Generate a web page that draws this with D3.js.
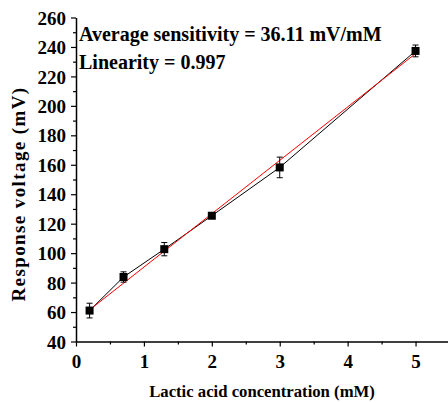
<!DOCTYPE html>
<html>
<head>
<meta charset="utf-8">
<script src="https://cdn.jsdelivr.net/npm/d3@7"></script>
<style>
  body { margin: 0; background: #fff; }
  svg text { font-family: "Liberation Serif", "Times New Roman", serif; font-weight: bold; }
</style>
</head>
<body>
<div id="chart"></div>
<script>
const width = 448;
const height = 403;

const concentration = [0.2, 0.7, 1.3, 2, 3, 5];
const voltage = [61, 83.8, 102.7, 125.4, 158.2, 237.3];
const errorBar = [5, 3.5, 4.5, 1, 7, 4];

// linear fit end points
const fitX = [0.2, 5];
const fitY = [61.5, 235.5];

const xTicks = [0, 1, 2, 3, 4, 5];
const xMinor = [0.5, 1.5, 2.5, 3.5, 4.5, 5.5];
const yTicks = [40, 60, 80, 100, 120, 140, 160, 180, 200, 220, 240, 260];
const yMinor = [50, 70, 90, 110, 130, 150, 170, 190, 210, 230, 250];

const xScale = d3.scaleLinear().domain([0, 5.5]).range([76, 449.5]);
const yScale = d3.scaleLinear().domain([40, 260]).range([341.5, 17.5]);

const svg = d3.select('#chart')
    .append('svg')
    .attr('width', width)
    .attr('height', height);

// minor ticks first, then main axes on top
svg.append('g')
    .attr('transform', `translate(0, ${yScale(40)})`)
    .call(d3.axisBottom(xScale).tickValues(xMinor).tickSize(3).tickFormat(''))
    .call(g => g.select('.domain').remove());

svg.append('g')
    .attr('transform', `translate(${xScale(0)}, 0)`)
    .call(d3.axisLeft(yScale).tickValues(yMinor).tickSize(3).tickFormat(''))
    .call(g => g.select('.domain').remove());

const xAxis = svg.append('g')
    .attr('transform', `translate(0, ${yScale(40)})`)
    .call(d3.axisBottom(xScale).tickValues(xTicks).tickSize(5).tickSizeOuter(0).tickPadding(8).tickFormat(d3.format('d')));

const yAxis = svg.append('g')
    .attr('transform', `translate(${xScale(0)}, 0)`)
    .call(d3.axisLeft(yScale).tickValues(yTicks).tickSize(5).tickSizeOuter(0).tickPadding(5));

[xAxis, yAxis].forEach(a => {
    a.select('.domain').attr('stroke-width', 1.5);
    a.selectAll('.tick text')
        .style('font-size', '19px')
        .style('font-family', '"Liberation Serif", serif')
        .style('font-weight', 'bold')
        .attr('fill', '#000');
});
yAxis.selectAll('.tick text').attr('dy', '0.35em');

svg.selectAll('.tick line').attr('stroke', '#000').attr('stroke-width', 1.2);

const points = concentration.map((c, i) => ({x: c, y: voltage[i], e: errorBar[i]}));

// data line
svg.append('path')
    .datum(points)
    .attr('fill', 'none')
    .attr('stroke', '#000')
    .attr('stroke-width', 1)
    .attr('d', d3.line().x(d => xScale(d.x)).y(d => yScale(d.y)));

// fit line
svg.append('path')
    .datum(fitX.map((x, i) => ({x: x, y: fitY[i]})))
    .attr('fill', 'none')
    .attr('stroke', '#ff0000')
    .attr('stroke-width', 1)
    .attr('d', d3.line().x(d => xScale(d.x)).y(d => yScale(d.y)));

// error bars
const err = svg.append('g').attr('stroke', '#000').attr('stroke-width', 1);
err.selectAll('.bar')
    .data(points)
    .enter()
    .append('line')
    .attr('x1', d => xScale(d.x))
    .attr('x2', d => xScale(d.x))
    .attr('y1', d => yScale(d.y - d.e))
    .attr('y2', d => yScale(d.y + d.e));
err.selectAll('.cap-top')
    .data(points)
    .enter()
    .append('line')
    .attr('x1', d => xScale(d.x) - 3)
    .attr('x2', d => xScale(d.x) + 3)
    .attr('y1', d => yScale(d.y + d.e))
    .attr('y2', d => yScale(d.y + d.e));
err.selectAll('.cap-bottom')
    .data(points)
    .enter()
    .append('line')
    .attr('x1', d => xScale(d.x) - 3)
    .attr('x2', d => xScale(d.x) + 3)
    .attr('y1', d => yScale(d.y - d.e))
    .attr('y2', d => yScale(d.y - d.e));

// square markers
svg.selectAll('.marker')
    .data(points)
    .enter()
    .append('rect')
    .attr('x', d => xScale(d.x) - 4)
    .attr('y', d => yScale(d.y) - 4)
    .attr('width', 8)
    .attr('height', 8)
    .attr('fill', '#000');

// annotations
svg.append('text')
    .attr('x', 79)
    .attr('y', 41)
    .style('font-size', '20px')
    .text('Average sensitivity = 36.11 mV/mM');

svg.append('text')
    .attr('x', 79)
    .attr('y', 69)
    .style('font-size', '20px')
    .text('Linearity = 0.997');

// axis titles
svg.append('text')
    .attr('x', 262)
    .attr('y', 397)
    .attr('text-anchor', 'middle')
    .style('font-size', '16.7px')
    .text('Lactic acid concentration (mM)');

svg.append('text')
    .attr('transform', `translate(25, 194) rotate(-90)`)
    .attr('text-anchor', 'middle')
    .style('font-size', '19px')
    .style('letter-spacing', '1.4px')
    .text('Response voltage (mV)');
</script>
</body>
</html>
